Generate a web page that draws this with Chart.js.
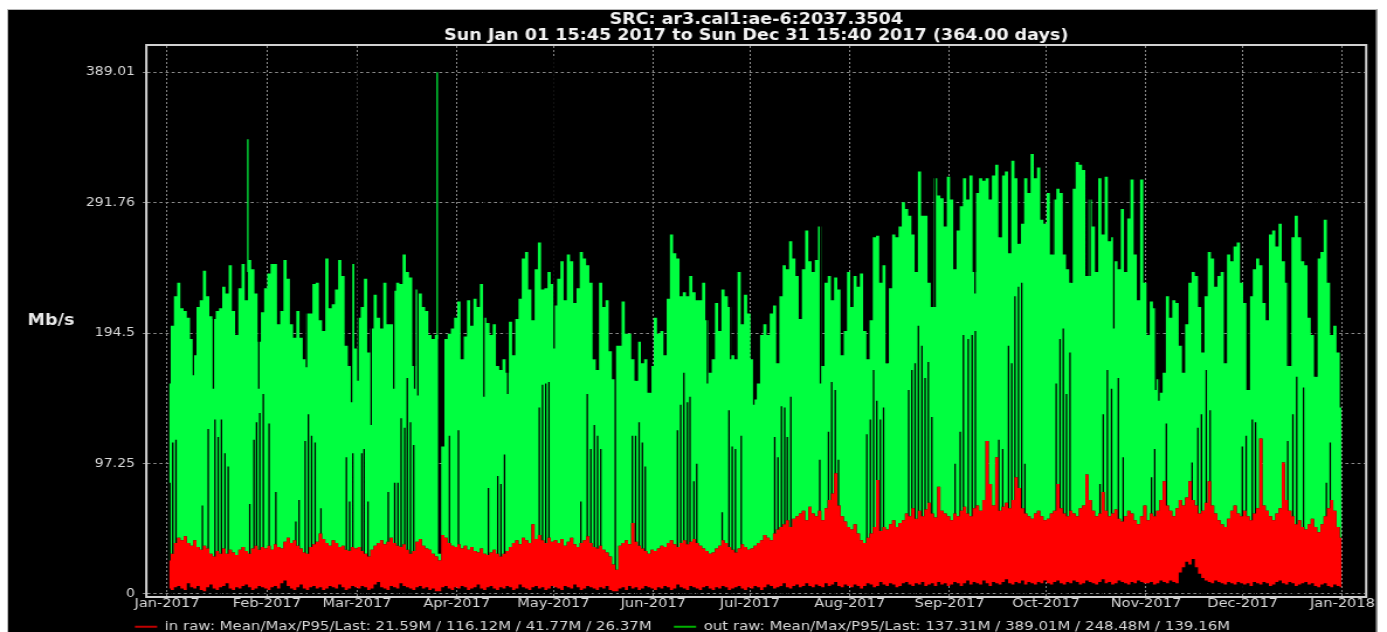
<!DOCTYPE html>
<html>
<head>
<meta charset="utf-8">
<script src="https://cdn.jsdelivr.net/npm/chart.js@4.4.1/dist/chart.umd.min.js"></script>
<style>
  html, body { margin: 0; padding: 0; background: #fff; overflow: hidden; }
  /* the original graph is a horizontally stretched bitmap, so the canvas is drawn narrow and stretched */
  #c { position: absolute; left: 0; top: 0; transform: scaleX(1.16948); transform-origin: 0 0; }
</style>
</head>
<body>
<canvas id="c" width="1186" height="632"></canvas>
<script>
var titleLines = ['SRC: ar3.cal1:ae-6:2037.3504', 'Sun Jan 01 15:45 2017 to Sun Dec 31 15:40 2017 (364.00 days)'];
var yUnit = 'Mb/s';
var monthDays = [0, 31, 59, 90, 120, 151, 181, 212, 243, 273, 304, 334, 365];
var monthLabels = ['Jan-2017', 'Feb-2017', 'Mar-2017', 'Apr-2017', 'May-2017', 'Jun-2017', 'Jul-2017',
  'Aug-2017', 'Sep-2017', 'Oct-2017', 'Nov-2017', 'Dec-2017', 'Jan-2018'];
var yTicks = [0, 97.25, 194.5, 291.76, 389.01];
var yTickLabels = ['0', '97.25', '194.5', '291.76', '389.01'];
var legendText = ['in raw: Mean/Max/P95/Last: 21.59M / 116.12M / 41.77M / 26.37M',
  'out raw: Mean/Max/P95/Last: 137.31M / 389.01M / 248.48M / 139.16M'];

// daily peak of "out" traffic, Mb/s (one value per day, Jan 1 .. Dec 31)
var outHigh = [
  157,200,222,232,213,211,206,190,178,214,219,241,222,207,205,211,213,229,224,245,211,193,228,246,219,249,242,224,188,210,228,
  239,246,246,201,211,249,235,201,191,211,191,175,209,209,231,232,204,196,250,213,216,227,249,237,185,170,246,183,
  206,214,235,180,198,223,206,198,232,201,201,226,232,231,253,240,236,170,227,224,214,211,193,190,193,30,110,190,194,198,206,
  218,175,192,219,200,220,214,231,206,202,193,201,170,167,175,165,203,178,205,220,250,255,227,204,242,262,227,228,240,231,
  215,235,248,219,253,248,217,228,255,250,245,232,175,167,232,214,219,181,160,185,185,218,194,194,175,159,188,172,175,150,170,
  206,194,196,178,220,268,254,250,222,225,222,237,225,219,219,232,204,165,175,217,196,227,222,214,178,175,240,201,223,209,
  175,145,157,193,201,193,209,215,172,222,245,242,263,250,237,205,242,271,248,240,249,274,170,232,237,219,236,227,178,196,240,
  214,237,229,239,196,175,204,266,267,232,245,172,228,268,266,274,292,287,282,268,240,315,282,282,232,214,310,297,295,274,311,
  294,242,271,289,310,294,312,240,299,310,308,310,294,312,320,266,312,315,254,323,310,261,276,310,299,328,310,318,279,276,
  299,253,294,302,299,253,242,232,302,322,320,316,237,294,274,240,310,268,311,263,266,248,242,287,240,280,309,253,219,309,232,
  193,218,213,160,150,165,222,206,219,217,185,165,201,232,240,237,214,180,222,255,250,229,237,240,172,253,248,259,262,232,
  217,152,222,242,250,245,217,204,268,271,259,276,248,232,170,266,282,266,248,245,206,193,162,250,255,279,232,193,200,180,139
];

// daily peak and trough of "in" traffic, Mb/s
var inHigh = [
  25,30,38,42,40,43,38,36,40,35,33,36,34,30,28,32,30,34,30,33,31,29,33,35,32,30,34,36,33,35,34,
  36,33,37,35,34,39,42,38,40,36,34,31,30,35,37,39,45,41,38,36,40,38,35,36,33,32,35,34,
  35,32,30,28,33,36,38,40,37,39,42,38,36,35,37,33,30,32,39,41,36,34,33,30,28,25,44,42,38,36,35,
  37,34,36,33,35,32,31,34,30,29,31,33,30,28,30,32,35,38,40,37,42,40,38,52,41,44,40,38,42,39,
  40,38,41,36,39,42,37,35,38,40,43,38,35,34,36,33,31,28,22,18,36,38,40,37,53,39,36,34,32,30,33,
  32,34,36,35,38,40,37,35,38,40,37,39,41,38,36,34,32,30,31,34,36,40,38,35,33,31,34,37,35,33,
  34,36,38,40,44,42,40,45,48,50,52,55,50,56,58,60,62,55,65,60,58,62,55,64,70,75,90,66,58,54,50,
  48,52,45,40,38,42,45,50,85,47,50,48,52,55,50,53,55,60,58,64,56,62,58,63,68,60,57,80,62,60,58,
  55,60,58,62,65,60,58,64,66,62,70,114,82,66,102,62,65,68,64,70,87,79,64,60,58,56,60,62,58,55,
  56,60,62,82,64,60,58,62,60,58,64,66,89,70,62,58,60,76,62,58,60,63,56,54,58,62,60,55,52,58,66,
  55,60,58,62,70,84,66,62,58,64,70,66,72,84,70,66,60,62,68,84,66,60,55,52,50,56,62,66,60,58,
  62,58,55,60,64,116,66,62,58,55,60,64,98,70,62,58,52,55,50,48,52,56,50,46,52,58,64,70,62,50,42
];
var inLow = [
  4,3,5,6,4,3,8,5,4,6,3,2,5,7,4,3,5,6,8,4,3,5,4,6,7,5,3,4,6,5,4,
  3,5,6,4,8,10,6,4,3,5,7,4,3,5,6,4,5,3,4,6,5,4,7,5,3,4,6,5,
  4,6,5,3,4,7,9,5,4,3,6,5,4,8,6,5,4,3,5,6,4,5,3,4,2,2,5,6,4,3,5,
  4,6,5,3,4,5,7,4,3,5,6,4,3,5,4,6,5,3,4,7,5,4,3,5,6,4,5,3,4,6,
  5,4,3,6,5,4,7,5,3,4,6,5,4,3,5,4,6,3,2,2,4,5,3,6,4,5,3,4,6,5,4,
  3,5,4,6,5,3,4,7,5,4,3,6,5,4,3,5,6,4,3,5,4,6,5,3,4,5,6,4,3,5,
  4,6,5,3,5,7,6,4,5,6,8,5,4,6,7,5,6,8,6,5,7,6,5,8,6,7,9,6,5,7,6,
  5,7,6,4,6,8,7,5,6,9,7,6,8,7,5,6,8,9,7,6,8,7,9,6,7,8,6,9,7,8,6,
  7,9,8,6,8,10,7,9,8,7,10,8,6,9,8,7,9,11,8,7,9,8,10,7,9,8,7,9,8,10,
  8,7,9,10,8,7,9,8,10,9,7,8,10,9,8,7,9,11,8,9,7,8,10,9,8,7,9,8,10,9,8,
  8,9,7,8,10,9,8,10,9,8,16,20,24,22,26,20,15,12,10,9,8,10,9,8,7,9,8,7,9,8,
  7,8,6,9,8,7,9,8,6,7,9,10,8,7,9,8,6,7,8,9,7,8,6,5,7,8,6,5,7,6,5
];

// dark gaps rising from the bottom of the green band (day of year, top of gap in Mb/s)
var lowGapDay = [0.9,1.8,2.8,11,12.8,14.9,15.9,16.9,18,19,25.7,27,27.8,28.8,29.9,31.7,33.8,40,41,42.9,43.9,44.9,46,47.8,
  55.7,56.7,57.7,60.5,61.2,62.4,68.7,70.7,71.7,72.7,73.8,74.6,75.6,76.6,87.7,90.5,99.8,102.7,103.7,104.8,
  115.6,116.6,117.6,118.6,128.5,130.5,131.6,132.7,133.7,134.7,139.2,144.5,145.5,146.6,147.6,148.5,158.5,159.5,160.5,161.6,
  162.4,163.6,164.5,172.4,174.5,175.5,176.5,178.3,188.7,189.7,190.8,191.8,192.6,193.7,202.7,205.4,206.4,207.5,208.5,
  217.3,218.4,219.4,220.4,221.5,222.5,230.3,231.3,232.3,233.3,234.4,235.4,236.4,237.5,244.7,246.3,247.3,248.8,250,251,
  258.3,259.5,261.3,262.3,263.3,264.4,265.4,266.4,276.1,277.3,278.3,279.3,280.4,
  289.7,290.7,292,293.3,295.4,296.9,305.7,306.7,310.3,318.3,320.1,321.2,322.7,323.9,333.9,335.1,337,338,348,349.6,
  350.8,352.9,360,361.2];
var lowGapTop = [83,113,115,66,123,130,117,130,105,95,67,115,128,135,149,127,76,54,70,114,134,118,113,64,
  102,69,105,105,108,69,76,83,83,131,124,161,128,111,118,122,79,88,82,104,
  139,156,157,158,69,149,108,126,118,108,190,118,118,128,113,95,122,141,165,143,
  147,84,97,61,137,110,108,118,117,102,140,139,117,147,100,121,158,152,100,
  119,130,167,144,130,139,152,167,172,200,185,161,173,132,97,121,193,190,193,196,
  115,108,185,172,222,229,232,97,157,190,198,149,180,
  82,134,167,153,161,102,87,108,127,98,124,134,167,137,110,118,130,128,114,134,
  162,154,83,113];
// short dips from the top of the green band (day of year, bottom of dip in Mb/s)
var dipDay = [8.2,14.4,21.6,28.5,43.3,57.3,59.3,63.4,70.4,76.9,77.9,98.4,105.8,120.2,132.6,133.6,146,150.2,167.8,175,
  182.2,202.9,223.5,238.5,250.9,259,264.3,275.3,281,286.6,294,307,308,336,348,357];
var dipBottom = [163,153,193,153,169,143,159,126,153,153,148,147,149,183,175,167,159,150,157,175,
  141,157,172,214,224,266,261,253,232,237,198,152,144,152,170,162];
// single-sample peaks of "out"
var spikeDay = [25.1, 83.9];
var spikeLow = [240, 190];
var spikeHigh = [339, 389.01];

var GREEN = '#00ff40', RED = '#ff0000';

function daily(arr) {
  return arr.map(function (v, i) { return { x: i + 0.65, y: v }; });
}
function sticks(days, lo, hi) {
  var pts = [];
  days.forEach(function (d, i) {
    var a = Array.isArray(lo) ? lo[i] : lo;
    var b = Array.isArray(hi) ? hi[i] : hi;
    pts.push({ x: d, y: a }, { x: d, y: b }, { x: d, y: null });
  });
  return pts;
}

var framePlugin = {
  id: 'frame',
  afterLayout: function (chart) {
    // the x labels hang below the thin axis box, so don't let them be clipped
    chart.scales.x.bottom = chart.height;
  },
  beforeDraw: function (chart) {
    var ctx = chart.ctx;
    ctx.save();
    ctx.fillStyle = '#ffffff';
    ctx.fillRect(0, 0, chart.width, chart.height);
    ctx.fillStyle = '#000000';
    ctx.fillRect(6, 9, 1171.5, 640);
    ctx.strokeStyle = '#b8b8b8';
    ctx.lineWidth = 1;
    ctx.strokeRect(6.5, 9.5, 1170.5, 640);
    ctx.restore();
  },
  afterDraw: function (chart) {
    var ctx = chart.ctx, a = chart.chartArea;
    ctx.save();
    ctx.strokeStyle = '#d0d0d0';
    ctx.lineWidth = 2;
    ctx.strokeRect(a.left - 1, a.top - 1, a.right - a.left + 2, a.bottom - a.top + 2);
    ctx.fillStyle = '#e8e8e8';
    ctx.font = 'bold 15px "DejaVu Sans"';
    ctx.textAlign = 'center';
    ctx.textBaseline = 'middle';
    ctx.fillText(yUnit, 43.6, 321);
    ctx.restore();
  }
};

Chart.defaults.font.family = '"DejaVu Sans"';

new Chart(document.getElementById('c'), {
  type: 'line',
  data: {
    datasets: [
      { label: 'in', data: daily(inHigh), borderWidth: 0, borderColor: RED, backgroundColor: RED,
        fill: '+1', stepped: 'middle', pointRadius: 0, order: 2 },
      { label: 'in low', data: daily(inLow), borderWidth: 0, borderColor: 'rgba(0,0,0,0)',
        fill: false, stepped: 'middle', pointRadius: 0, order: 2 },
      { label: 'out', data: daily(outHigh), borderWidth: 0, borderColor: GREEN, backgroundColor: GREEN,
        fill: 0, stepped: 'middle', pointRadius: 0, order: 4 },
      { label: 'gaps', data: sticks(lowGapDay, 0, lowGapTop).concat(sticks(dipDay, dipBottom, 400)),
        borderColor: '#000000', borderWidth: 1.3, fill: false, pointRadius: 0, spanGaps: false, order: 3 },
      { label: 'spikes', data: sticks(spikeDay, spikeLow, spikeHigh), borderColor: GREEN, borderWidth: 1.2,
        fill: false, pointRadius: 0, spanGaps: false, order: 1 }
    ]
  },
  options: {
    responsive: false,
    animation: false,
    events: [],
    layout: { padding: { left: 0, right: 18.8, top: 0, bottom: 0 } },
    scales: {
      x: {
        type: 'linear', min: -6.06, max: 372.0,
        afterBuildTicks: function (s) { s.ticks = monthDays.map(function (v) { return { value: v }; }); },
        afterFit: function (s) { s.height = 5.35; },
        ticks: {
          autoSkip: false, maxRotation: 0, padding: -2.5, color: '#d8d8d8',
          font: { size: 12.5 },
          callback: function (v, i) { return monthLabels[i]; }
        },
        grid: { color: '#8a8a8a', lineWidth: 1, tickLength: 3, tickColor: '#8a8a8a', tickBorderDash: [2, 2] },
        border: { display: false, dash: [2, 2] }
      },
      y: {
        min: -1.5, max: 408.5,
        afterBuildTicks: function (s) { s.ticks = yTicks.map(function (v) { return { value: v }; }); },
        afterFit: function (s) { s.width = 126.1; },
        ticks: {
          padding: 6.7, color: '#d8d8d8', font: { size: 12 },
          callback: function (v, i) { return yTickLabels[i]; }
        },
        grid: { color: '#8a8a8a', lineWidth: 1, tickLength: 4, tickColor: '#8a8a8a', tickBorderDash: [2.6, 2.6] },
        border: { display: false, dash: [2.6, 2.6] }
      }
    },
    plugins: {
      tooltip: { enabled: false },
      title: {
        display: true, text: titleLines, fullSize: false, color: '#f2f2f2',
        font: { size: 15, weight: 'bold', lineHeight: '16px' },
        padding: { top: 12, bottom: 2 }
      },
      legend: {
        position: 'bottom', maxHeight: 30.65,
        labels: {
          usePointStyle: true, pointStyleWidth: 19, padding: 19, color: '#d8d8d8',
          font: { size: 12.8 },
          generateLabels: function () {
            return legendText.map(function (t, i) {
              var c = i === 0 ? '#c00000' : '#00b000';
              return { text: t, strokeStyle: c, fillStyle: c, fontColor: '#d8d8d8', lineWidth: 2,
                pointStyle: 'line', hidden: false, datasetIndex: i };
            });
          }
        }
      }
    }
  },
  plugins: [framePlugin]
});
</script>
</body>
</html>
